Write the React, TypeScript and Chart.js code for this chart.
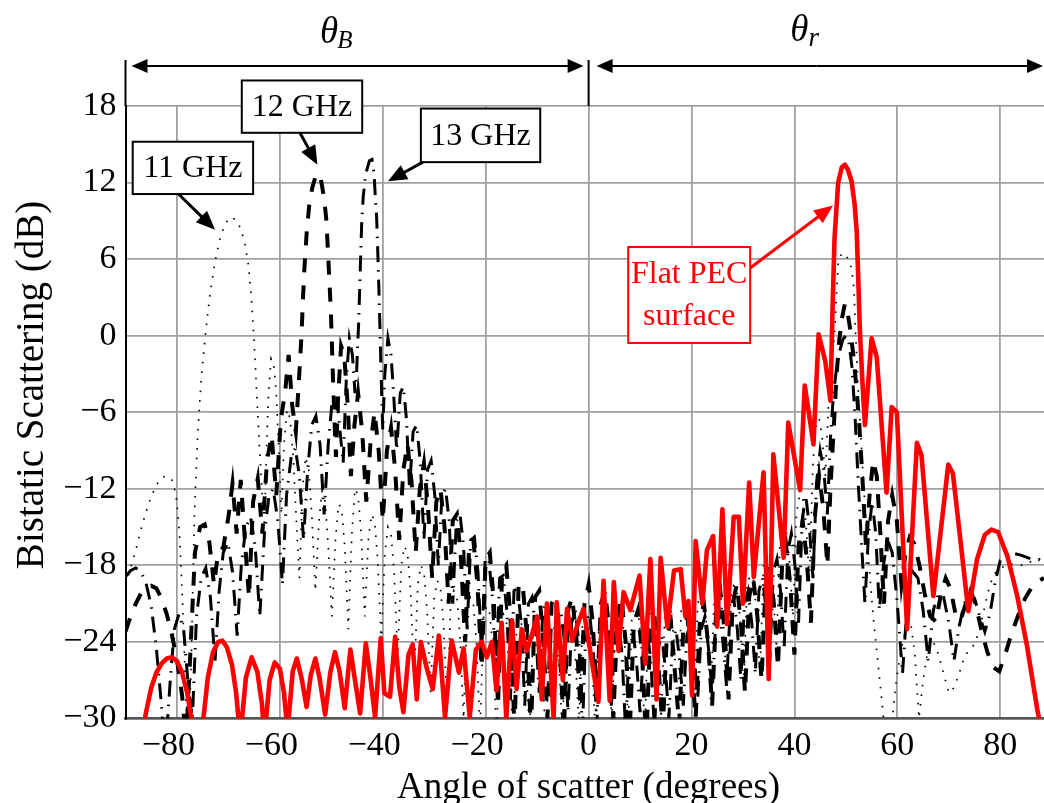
import React, { useEffect, useRef } from 'react';
import { Chart, registerables } from 'chart.js';

Chart.register(...registerables);

// ---------- data (angle in degrees, bistatic scattering in dB) ----------
const xTickValues = [-80, -60, -40, -20, 0, 20, 40, 60, 80];
const yTickStep = 6;
const xRange = [-90, 88.5];
const yRange = [-30, 18];

const pecPoints: number[][] = [
  [-87.5, -33], [-86, -29.5], [-85, -27.6], [-84, -26.4], [-83, -25.7], [-82, -25.3], [-81, -25.2], [-80, -25.5], [-79, -26.4], [-78, -28], [-77, -30.5], [-76, -33],
  [-75, -30.5], [-74, -26.8], [-73, -24.8], [-72, -24], [-71.2, -23.9], [-70.3, -24.4], [-69.3, -25.8], [-68.5, -28], [-67.7, -31.5],
  [-66.6, -26.8], [-65.5, -25.2], [-64.4, -26.3], [-63.5, -28.8], [-63, -31.5],
  [-62, -27], [-61, -25.6], [-60, -26.1], [-59.2, -28], [-58.5, -31],
  [-57.5, -26.3], [-56.7, -25.3], [-55.8, -26.8], [-54.8, -29.1], [-54, -26.6], [-53.1, -25.3], [-52.3, -26.8], [-51.2, -29.7],
  [-50.2, -26.4], [-49.3, -24.8], [-48.4, -26.3], [-47.4, -29.2], [-46.3, -24.6], [-45.4, -27], [-44.4, -29.6], [-43.3, -24.1],
  [-42.4, -26.8], [-41.5, -29.9], [-40.4, -23.7], [-39.7, -28], [-38.6, -28.3], [-37.6, -23.6], [-36.8, -27.5], [-36, -29.5],
  [-35, -25], [-34.2, -24.2], [-33.4, -28.5], [-32.6, -24], [-31.5, -26], [-30.3, -27.7], [-29.1, -23.5], [-27.9, -29.9],
  [-26.6, -23.9], [-25.2, -26.4], [-24.3, -24.5], [-23.1, -29.9], [-21.9, -24.6], [-20.8, -24], [-19.8, -25.2], [-18.8, -24],
  [-17.9, -27.8], [-16.9, -22.5], [-16, -30], [-14.9, -22.3], [-14, -27.7], [-13, -23], [-12, -24.7], [-11, -23.4], [-10, -22],
  [-9.1, -28.5], [-8.1, -21], [-6.8, -30], [-6.2, -20.9], [-5, -27], [-4.2, -21.4], [-3.2, -23.9], [-2.1, -22.6], [-1, -21.4],
  [0.5, -25.2], [1.9, -28.7], [2.9, -19.2], [4.1, -28.6], [4.9, -19.3], [5.8, -24.7], [6.8, -20.1], [8.1, -21.5], [9.9, -18.8],
  [11, -25.7], [12, -17.5], [13.2, -28.5], [14, -17.4], [15.3, -22.8], [16.6, -18.4], [17.9, -18.3], [18.8, -22], [19.4, -20.8],
  [20.1, -28.2], [20.8, -16.1], [22.1, -21], [23, -16.8], [24.2, -15.7], [25, -22.8], [26, -13.6], [26.9, -22.6], [28.2, -14.2],
  [29.2, -14.2], [30, -21], [31.2, -11.5], [32.1, -18.9], [34, -10.7], [35, -26.9], [35.9, -9.3], [37.9, -17.4], [38.8, -6.8],
  [41.1, -12.1], [42, -3.9], [43.7, -8.5], [44.7, 0.1], [46, -2], [47, -5.1], [47.4, 2], [47.8, 7.7], [48.5, 12], [49.2, 13.2],
  [49.8, 13.4], [50.4, 13], [51.1, 12.1], [51.7, 10.3], [52.1, 8.2], [52.4, 4.5], [52.7, 0.6], [53.2, -3.5], [53.7, -7],
  [55, -0.2], [56, -1.7], [57.9, -12.3], [58.9, -5.6], [59.9, -6], [61.9, -23], [63.8, -8.4], [64.7, -9.4], [67, -20.4],
  [69.9, -10.1], [70.8, -10.8], [73.8, -21.6], [75.5, -17.5], [77, -15.6], [78.3, -15.2], [79.6, -15.4], [81.4, -17.3],
  [83.3, -20.4], [85.2, -24.3], [87.2, -29.3], [88.5, -32],
];

const ghz11Points: number[][] = [
  [-90, -19.5], [-89, -18.2], [-88, -16.8], [-87, -15.2], [-86, -13.8], [-85, -12.6], [-84, -11.7], [-83, -11.1], [-82, -11], [-81, -11.3],
  [-80.2, -12.4], [-79.5, -15.5], [-78.9, -21], [-78.3, -28], [-77.8, -33], [-77.2, -25], [-76.6, -14], [-76, -8], [-75.3, -3.5],
  [-74.5, 0], [-73.6, 3.2], [-72.6, 5.8], [-71.6, 7.7], [-70.6, 8.8], [-69.6, 9.3], [-68.6, 9.1], [-67.6, 8.4], [-66.8, 7.2],
  [-66.1, 5.5], [-65.5, 2.8], [-65, -0.5], [-64.5, -4.5], [-64, -8.5], [-63.5, -12], [-63, -15], [-62.6, -9], [-62.2, -4.5],
  [-61.7, -1.8], [-61.2, -2.2], [-60.7, -4.5], [-60.2, -9], [-59.7, -14], [-59.2, -8.5], [-58.6, -5.8], [-58, -6.5], [-57.4, -9.5],
  [-56.8, -14.5], [-56.2, -19], [-55.6, -12], [-55, -9.5], [-54.4, -10.5], [-53.8, -14], [-53.1, -20], [-52.4, -14.5], [-51.8, -12.2],
  [-51.2, -13], [-50.6, -16.5], [-49.9, -22], [-49.2, -16], [-48.6, -13.2], [-48, -13.5], [-47.4, -16.5], [-46.7, -23], [-46, -15.5],
  [-45.4, -12], [-44.8, -12.5], [-44.2, -15.5], [-43.5, -22], [-42.8, -16], [-42.2, -14], [-41.6, -14.5], [-41, -17.5], [-40.3, -24],
  [-39.6, -17], [-39, -15], [-38.4, -15.5], [-37.8, -18.5], [-37.1, -25], [-36.4, -18], [-35.8, -16.5], [-35.2, -17], [-34.6, -20],
  [-33.9, -27], [-33.2, -19.5], [-32.6, -18], [-32, -18.5], [-31.4, -21.5], [-30.7, -28], [-30, -20.5], [-29.4, -19.2], [-28.8, -19.8],
  [-28.2, -22.5], [-27.5, -29], [-26.8, -21], [-26.2, -20], [-25.6, -20.5], [-25, -23.5], [-24.3, -30], [-23.6, -21.5], [-23, -20.5],
  [-22.4, -21], [-21.8, -24], [-21.1, -31], [-20.4, -22], [-19.8, -21.2], [-19.2, -21.8], [-18.6, -24.5], [-17.9, -31.5], [-17.2, -22.5],
  [-16.6, -21.8], [-16, -22.3], [-15.4, -25], [-14.7, -32], [-14, -23], [-13.4, -22.3], [-12.8, -22.8], [-12.2, -25.5], [-11.5, -31],
  [-10.8, -23.5], [-10.2, -22.8], [-9.6, -23.2], [-9, -26], [-8.3, -32], [-7.6, -23.5], [-7, -22.8], [-6.4, -23], [-5.8, -25.5],
  [-5.1, -31], [-4.4, -23], [-3.8, -22.2], [-3.2, -22.5], [-2.6, -25], [-1.9, -30.5], [-1.2, -22.8], [-0.6, -22.2], [0, -22.5],
  [0.6, -25], [1.3, -31], [2, -22.5], [2.6, -21.8], [3.2, -22], [3.8, -24.5], [4.5, -30], [5.2, -22], [5.8, -21.3], [6.4, -21.5],
  [7, -24], [7.7, -30.5], [8.4, -22], [9, -21.2], [9.6, -21.5], [10.2, -24], [10.9, -31], [11.6, -22.5], [12.2, -21.6], [12.8, -22],
  [13.4, -24.5], [14.1, -30], [14.8, -22], [15.4, -21.2], [16, -21.4], [16.6, -24], [17.3, -29.5], [18, -21.5], [18.6, -20.8],
  [19.2, -21], [19.8, -23.5], [20.5, -29], [21.2, -21], [21.8, -20.2], [22.4, -20.5], [23, -23], [23.7, -28.5], [24.4, -20.5],
  [25, -19.8], [25.6, -20], [26.2, -22.5], [26.9, -28], [27.6, -20.5], [28.2, -19.6], [28.8, -19.8], [29.4, -22], [30.1, -27.5],
  [30.8, -19.5], [31.4, -18.8], [32, -19], [32.6, -21.5], [33.3, -26.5], [34, -18], [34.6, -17], [35.2, -17.3], [35.8, -19.5],
  [36.5, -24.5], [37.2, -16], [37.8, -15], [38.4, -15.2], [39, -17.5], [39.7, -22], [40.4, -14], [41, -12.5], [41.6, -12.7],
  [42.2, -14.5], [42.9, -19], [43.6, -10], [44.2, -7], [44.8, -6.5], [45.4, -8], [46, -11], [46.6, -5.6], [47.2, -3], [47.9, 0.9],
  [48.2, 3.5], [48.5, 5.6], [49, 6.3], [49.5, 6.5], [50.3, 6.1], [51.1, 5.3], [51.6, 3.5], [51.8, 0.9], [52.1, -1.7], [52.4, -4.3],
  [52.7, -6.4], [53.2, -10], [53.8, -14], [54.5, -18], [55.3, -22], [56.2, -25.5], [57.2, -29.5], [58, -33], [58.8, -31],
  [59.8, -27], [60.8, -24.5], [61.8, -22.8], [62.6, -22.5], [63.4, -25], [64.2, -30], [65, -27], [66, -24.5], [67, -24],
  [68, -25], [69, -26.5], [70, -28], [71, -27.6], [72, -26.5], [73, -25.2], [74, -24.6], [75, -24.2], [76, -23], [77, -21.2],
  [78, -19.5], [79, -18.6], [80, -18.2], [82, -17.9], [84, -18], [86, -17.7], [88.5, -17.4],
];

const ghz12Points: number[][] = [
  [-90, -23.2], [-89, -22], [-88, -21], [-87, -20.2], [-86, -19.8], [-85, -19.6], [-84, -19.8], [-83, -20.6], [-82, -21.8], [-81, -23.4],
  [-80, -25.4], [-79, -28.2], [-78.2, -32], [-77.3, -24], [-76.5, -17], [-75.5, -15], [-74.6, -14.8], [-73.7, -16.2], [-72.8, -19.5],
  [-72, -17], [-71, -16.6], [-70, -14.2], [-69.2, -11.6], [-68.4, -15.5], [-67.6, -11.3], [-66.8, -16], [-66, -20.5], [-65.2, -13],
  [-64.3, -11.2], [-63.4, -15.5], [-62.5, -9.8], [-61.6, -7.8], [-60.7, -12.5], [-59.8, -6.5], [-59, -4.5], [-58.3, -1.5], [-57.6, -5.5],
  [-56.9, -7.5], [-56.3, -3.5], [-55.8, 0], [-55.5, 3], [-55.2, 5.5], [-54.8, 8], [-54.3, 10.2], [-53.7, 11.6], [-52.9, 12.7],
  [-52.1, 12.4], [-51.4, 10.8], [-51, 9.2], [-50.7, 7], [-50.4, 4.5], [-50.1, 2], [-49.9, -0.5], [-49.7, -3], [-49.4, -6.5],
  [-49.1, -9.5], [-48.7, -5], [-48.1, -0.8], [-47.5, -1.5], [-46.8, -5.5], [-46.2, -11], [-45.5, -7], [-44.8, -4.5], [-44, -7.5],
  [-43.2, -13], [-42.4, -8.5], [-41.6, -6], [-40.8, -9], [-40, -14.5], [-39.2, -9], [-38.4, -7.2], [-37.6, -10.5], [-36.8, -16],
  [-36, -10.5], [-35.2, -8.5], [-34.4, -11.5], [-33.6, -17], [-32.8, -12], [-32, -10], [-31.2, -13.5], [-30.4, -19], [-29.6, -13],
  [-28.8, -12], [-28, -15], [-27.2, -21], [-26.4, -14.5], [-25.6, -14], [-24.8, -17.5], [-24, -24], [-23.2, -16.5], [-22.4, -16],
  [-21.6, -19.5], [-20.8, -26], [-20, -17.5], [-19.2, -17], [-18.4, -21], [-17.6, -29], [-16.8, -18.5], [-16, -18], [-15.2, -22],
  [-14.4, -31], [-13.6, -19.5], [-12.8, -19.5], [-12, -23.5], [-11.2, -31], [-10.4, -20.5], [-9.6, -20], [-8.8, -24], [-8, -30],
  [-7.2, -21], [-6.4, -20.5], [-5.6, -24.5], [-4.8, -31], [-4, -21.5], [-3.2, -20.5], [-2.4, -23.5], [-1.6, -29], [-0.8, -21],
  [0, -19.5], [0.8, -22.5], [1.6, -28.5], [2.4, -21], [3.2, -20], [4, -23], [4.8, -30], [5.6, -22], [6.4, -20.5], [7.2, -24],
  [8, -31], [8.8, -22.5], [9.6, -21.5], [10.4, -25], [11.2, -32], [12, -23], [12.8, -22], [13.6, -26], [14.4, -31], [15.2, -23.5],
  [16, -22.5], [16.8, -26.5], [17.6, -30.5], [18.4, -23], [19.2, -22], [20, -25.5], [20.8, -30], [21.6, -22.5], [22.4, -21],
  [23.2, -24], [24, -29], [24.8, -21.5], [25.6, -20], [26.4, -23], [27.2, -28.5], [28, -21], [28.8, -19.5], [29.6, -22.5],
  [30.4, -28], [31.2, -20.5], [32, -19], [32.8, -22], [33.6, -27], [34.4, -19.5], [35.2, -18], [36, -21], [36.8, -26], [37.6, -18],
  [38.4, -16.5], [39.2, -19.5], [40, -25], [40.8, -16.5], [41.6, -14.5], [42.4, -17.5], [43.2, -22.5], [44, -14], [44.8, -11],
  [45.6, -13.5], [46.4, -18], [47, -12], [47.6, -7.5], [48.2, -3], [48.7, -0.4], [49.2, 1.3], [49.8, 2.5], [50.3, 1.9], [50.8, 0.6],
  [51.5, -1.7], [52.1, -4.3], [52.6, -7], [53.2, -11], [53.9, -16.5], [54.6, -12.5], [55.3, -9.8], [56, -11], [56.7, -15.5],
  [57.4, -21], [58.2, -14.5], [59, -12.5], [59.9, -14.5], [60.8, -19.5], [61.6, -17], [62.4, -15.8], [63.3, -16.3], [64.3, -18],
  [65.3, -20.2], [66.4, -22], [67.5, -22.4], [68.5, -20.2], [69.4, -19], [70.3, -19.8], [71.3, -21.8], [72.3, -22.3], [73.3, -21],
  [74.2, -20], [75.2, -21], [76.3, -23], [77.5, -24.8], [78.7, -26], [79.8, -26.3], [80.8, -25.2], [82, -23.6], [83.4, -22],
  [84.8, -20.6], [86.3, -19.6], [87.5, -19.2], [88.5, -19],
];

const ghz13Points: number[][] = [
  [-90, -18.9], [-89, -18.4], [-88, -18.2], [-87, -18.5], [-86, -19.4], [-85, -21.2], [-84, -24.5], [-83, -29], [-82.3, -33],
  [-81.3, -27], [-80.5, -23], [-79.6, -21.8], [-78.7, -23], [-77.8, -27.5], [-77, -30], [-76.2, -22], [-75.3, -19], [-74.4, -18.2],
  [-73.5, -20.5], [-72.6, -25.5], [-71.8, -20], [-71, -17], [-70.1, -16.2], [-69.2, -18.5], [-68.3, -23.5], [-67.5, -18], [-66.6, -15],
  [-65.7, -14.2], [-64.8, -16.5], [-63.9, -22], [-63, -15.5], [-62.1, -12.5], [-61.3, -12], [-60.4, -14.5], [-59.5, -19.5],
  [-58.7, -12.5], [-57.8, -9.5], [-57, -8.8], [-56.2, -11], [-55.4, -16], [-54.6, -10.5], [-53.8, -7], [-53, -6.3], [-52.2, -8.5],
  [-51.4, -14], [-50.6, -8.5], [-49.8, -5], [-49, -4.5], [-48.3, -7.5], [-47.7, -10], [-47.1, -3.5], [-46.5, -0.2], [-45.9, -1.5],
  [-45.4, -4.5], [-45.1, -3], [-44.9, -0.9], [-44.7, 0.9], [-44.5, 3.5], [-44.3, 6.2], [-44.1, 8.8], [-43.8, 10.9], [-43.3, 12.7],
  [-42.6, 13.7], [-42.1, 13.8], [-41.7, 12.7], [-41.4, 10.5], [-41.2, 9.3], [-41, 6.9], [-40.8, 4.3], [-40.6, 1.4], [-40.4, -1.8],
  [-40.2, -4.8], [-40, -7.4], [-39.6, -3], [-39, -0.2], [-38.4, -1.5], [-37.9, -4.5], [-37.3, -9], [-36.6, -4.5], [-36, -4],
  [-35.4, -6.5], [-34.8, -12], [-34.1, -7.5], [-33.4, -7], [-32.7, -10], [-32, -16], [-31.3, -10.5], [-30.6, -9.8], [-29.9, -12.5],
  [-29.2, -18], [-28.5, -12.5], [-27.8, -12], [-27.1, -14.5], [-26.4, -21], [-25.7, -14.5], [-25, -14], [-24.3, -16.5], [-23.6, -23],
  [-22.9, -16], [-22.2, -15.8], [-21.5, -18.5], [-20.8, -25], [-20.1, -17.5], [-19.4, -17.5], [-18.7, -20.5], [-18, -27], [-17.3, -19],
  [-16.6, -18.8], [-15.9, -21.5], [-15.2, -28.5], [-14.5, -20], [-13.8, -19.8], [-13.1, -22.5], [-12.4, -29], [-11.7, -21], [-11, -20.5],
  [-10.3, -23], [-9.6, -28], [-8.9, -21.5], [-8.2, -21], [-7.5, -23.5], [-6.8, -30], [-6.1, -22], [-5.4, -21.5], [-4.7, -24], [-4, -29.5],
  [-3.3, -22.5], [-2.6, -21.5], [-1.9, -24], [-1.2, -31], [-0.5, -22.5], [0.2, -21.8], [0.9, -24.5], [1.6, -30.5], [2.3, -23], [3, -22],
  [3.7, -24.5], [4.4, -29], [5.1, -23.5], [5.8, -22.5], [6.5, -25], [7.2, -31], [7.9, -24], [8.6, -23], [9.3, -25.5], [10, -29.5],
  [10.7, -24], [11.4, -23.2], [12.1, -25.5], [12.8, -31], [13.5, -24.5], [14.2, -23.5], [14.9, -26], [15.6, -30], [16.3, -24], [17, -23],
  [17.7, -25.5], [18.4, -29], [19.1, -23.5], [19.8, -22.5], [20.5, -25], [21.2, -28.5], [21.9, -23], [22.6, -22], [23.3, -24.5], [24, -28],
  [24.7, -22.5], [25.4, -21.5], [26.1, -24], [26.8, -27.5], [27.5, -21.5], [28.2, -20.5], [28.9, -23], [29.6, -27], [30.3, -21], [31, -20],
  [31.7, -22.5], [32.4, -26.5], [33.1, -20], [33.8, -19], [34.5, -21.5], [35.2, -25.5], [35.9, -18.5], [36.6, -17.5], [37.3, -20],
  [38, -24.5], [38.7, -17], [39.4, -15.5], [40.1, -18], [40.8, -22.5], [41.5, -14.5], [42.2, -12.5], [42.9, -15], [43.6, -19],
  [44.3, -11.5], [45, -9], [45.7, -10.5], [46.4, -14], [47, -8], [47.6, -4.5], [48.2, -2.5], [48.8, -1.2], [49.4, -0.3], [50, 0],
  [50.6, -0.6], [51.2, -2.5], [51.8, -6.5], [52.4, -11.5], [53, -16], [53.7, -21], [54.4, -15.5], [55.1, -13], [55.8, -15.5],
  [56.5, -21.5], [57.3, -18], [58.1, -16], [59, -17], [60, -21], [61, -26.5], [62, -20.5], [63, -18.5], [64, -19], [65, -21.5],
  [66, -25.5], [67, -21.5], [68, -20.2], [69, -20.5], [70, -22.5], [71, -25.5], [72, -22.8], [73, -21], [74, -20.2], [75, -20.6],
  [76, -22], [77, -23.2], [78, -21.8], [79, -19.3], [80, -17.6], [82, -17], [84, -17.2], [86, -17.5], [88.5, -17.6],
];

// ---------- annotation layout (data coordinates) ----------
const FONT = "'Liberation Serif', 'Times New Roman', serif";
const labelBoxes = [
  { lines: ['11 GHz'], x1: -88.6, x2: -65.2, y1: 15.2, y2: 11.1, color: '#000000' },
  { lines: ['12 GHz'], x1: -67.4, x2: -44.0, y1: 20.0, y2: 15.9, color: '#000000' },
  { lines: ['13 GHz'], x1: -32.6, x2: -9.4, y1: 17.8, y2: 13.6, color: '#000000' },
  { lines: ['Flat PEC', 'surface'], x1: 7.7, x2: 31.4, y1: 6.95, y2: -0.57, color: '#ff0000' },
];
const pointerArrows = [
  { from: [-79.7, 11.1], to: [-72.6, 8.3], color: '#000000' },
  { from: [-56.1, 15.9], to: [-52.7, 13.4], color: '#000000' },
  { from: [-32.2, 13.6], to: [-39.0, 12.1], color: '#000000' },
  { from: [31.4, 5.3], to: [47.5, 10.2], color: '#ff0000' },
];

function fmtTick(v: number, pad: boolean) {
  if (v < 0) return '\u2212' + Math.abs(v) + (pad ? '\u2002' : '');
  return String(v);
}

function drawArrow(ctx: CanvasRenderingContext2D, x1: number, y1: number, x2: number, y2: number, color: string, lw: number, hl: number, hw: number) {
  const a = Math.atan2(y2 - y1, x2 - x1);
  const c = Math.cos(a), s = Math.sin(a);
  ctx.save();
  ctx.strokeStyle = color;
  ctx.fillStyle = color;
  ctx.lineWidth = lw;
  ctx.setLineDash([]);
  ctx.beginPath();
  ctx.moveTo(x1, y1);
  ctx.lineTo(x2 - hl * 0.8 * c, y2 - hl * 0.8 * s);
  ctx.stroke();
  ctx.beginPath();
  ctx.moveTo(x2, y2);
  ctx.lineTo(x2 - hl * c + hw * s, y2 - hl * s - hw * c);
  ctx.lineTo(x2 - hl * c - hw * s, y2 - hl * s + hw * c);
  ctx.closePath();
  ctx.fill();
  ctx.restore();
}

const annotationPlugin = {
  id: 'figureAnnotations',
  afterDraw(chart: any) {
    const ctx: CanvasRenderingContext2D = chart.ctx;
    const xs = chart.scales.x;
    const ys = chart.scales.y;
    const px = (v: number) => xs.getPixelForValue(v);
    const py = (v: number) => ys.getPixelForValue(v);
    const area = chart.chartArea;
    ctx.save();

    // top range markers
    const yArrow = 66;
    const xL = px(xRange[0]);
    const x0 = px(0);
    const xR = area.right;
    ctx.strokeStyle = '#000';
    ctx.lineWidth = 2;
    ctx.beginPath();
    ctx.moveTo(xL, 60); ctx.lineTo(xL, area.top);
    ctx.moveTo(x0, 60); ctx.lineTo(x0, area.top);
    ctx.stroke();
    drawArrow(ctx, (xL + x0) / 2, yArrow, xL + 6, yArrow, '#000', 2, 16, 7);
    drawArrow(ctx, (xL + x0) / 2, yArrow, x0 - 5, yArrow, '#000', 2, 16, 7);
    drawArrow(ctx, (x0 + xR) / 2, yArrow, x0 + 8, yArrow, '#000', 2, 16, 7);
    drawArrow(ctx, (x0 + xR) / 2, yArrow, xR - 1, yArrow, '#000', 2, 16, 7);

    // theta labels
    ctx.fillStyle = '#000';
    ctx.textBaseline = 'alphabetic';
    ctx.textAlign = 'left';
    ctx.font = `italic 37px ${FONT}`;
    const thB = px(-52.2);
    ctx.fillText('\u03b8', thB, 43);
    const wth = ctx.measureText('\u03b8').width;
    ctx.font = `italic 25px ${FONT}`;
    ctx.fillText('B', thB + wth - 1, 48);
    ctx.font = `italic 37px ${FONT}`;
    const thR = px(39.2);
    ctx.fillText('\u03b8', thR, 41);
    ctx.font = `italic 27px ${FONT}`;
    ctx.fillText('r', thR + wth, 46);

    // pointer arrows
    for (const ar of pointerArrows) {
      drawArrow(ctx, px(ar.from[0]), py(ar.from[1]), px(ar.to[0]), py(ar.to[1]), ar.color, 3, 19, 8);
    }

    // label boxes
    for (const b of labelBoxes) {
      const bx = px(b.x1), by = py(b.y1);
      const bw = px(b.x2) - bx, bh = py(b.y2) - by;
      ctx.fillStyle = '#ffffff';
      ctx.fillRect(bx, by, bw, bh);
      ctx.strokeStyle = b.color;
      ctx.lineWidth = 2;
      ctx.strokeRect(bx, by, bw, bh);
      ctx.fillStyle = b.color;
      ctx.font = `32px ${FONT}`;
      ctx.textAlign = 'center';
      ctx.textBaseline = 'middle';
      const n = b.lines.length;
      const lh = 42;
      b.lines.forEach((t, i) => {
        ctx.fillText(t, bx + bw / 2, by + bh / 2 + (i - (n - 1) / 2) * lh + 1);
      });
    }

    // axis titles
    ctx.fillStyle = '#000';
    ctx.font = `37px ${FONT}`;
    ctx.textAlign = 'center';
    ctx.textBaseline = 'alphabetic';
    ctx.fillText('Angle of scatter (degrees)', x0, 798);
    ctx.save();
    ctx.font = `39px ${FONT}`;
    ctx.translate(43, 385);
    ctx.rotate(-Math.PI / 2);
    ctx.fillText('Bistatic Scattering (dB)', 0, 0);
    ctx.restore();

    ctx.restore();
  },
};

export default function App() {
  const canvasRef = useRef<HTMLCanvasElement | null>(null);

  useEffect(() => {
    document.body.style.margin = '0';
    const toXY = (pts: number[][]) => pts.map((p) => ({ x: p[0], y: p[1] }));
    const chart = new Chart(canvasRef.current as HTMLCanvasElement, {
      type: 'line',
      data: {
        datasets: [
          {
            label: 'Flat PEC surface',
            data: toXY(pecPoints),
            borderColor: '#ff0000',
            borderWidth: 4.6,
            borderJoinStyle: 'round',
            pointRadius: 0,
            tension: 0,
            clip: 0,
          },
          {
            label: '13 GHz',
            data: toXY(ghz13Points),
            borderColor: '#000000',
            borderWidth: 3,
            borderDash: [16, 8, 1.5, 8],
            pointRadius: 0,
            tension: 0,
            clip: 0,
          },
          {
            label: '12 GHz',
            data: toXY(ghz12Points),
            borderColor: '#000000',
            borderWidth: 4,
            borderDash: [14, 13],
            pointRadius: 0,
            tension: 0,
            clip: 0,
          },
          {
            label: '11 GHz',
            data: toXY(ghz11Points),
            borderColor: '#000000',
            borderWidth: 1.7,
            borderDash: [1.6, 8],
            pointRadius: 0,
            tension: 0,
            clip: 0,
          },
        ] as any,
      },
      options: {
        responsive: false,
        animation: false,
        devicePixelRatio: 1,
        layout: { padding: { top: 106, left: 0, right: 0, bottom: 0 } },
        plugins: { legend: { display: false }, tooltip: { enabled: false } },
        scales: {
          x: {
            type: 'linear',
            min: xRange[0],
            max: xRange[1],
            afterBuildTicks: (scale: any) => {
              scale.ticks = xTickValues.map((v) => ({ value: v }));
            },
            afterFit: (scale: any) => {
              scale.height = 803 - 718.5;
            },
            ticks: {
              autoSkip: false,
              maxRotation: 0,
              padding: 7,
              color: '#000',
              font: { family: FONT, size: 34 },
              callback: (v: any) => fmtTick(Number(v), true),
            },
            grid: { color: '#a0a0a0', lineWidth: 1.8, drawTicks: false },
            border: { display: true, color: '#555555', width: 2.5 },
          },
          y: {
            type: 'linear',
            min: yRange[0],
            max: yRange[1],
            afterFit: (scale: any) => {
              scale.width = 125.5;
            },
            ticks: {
              stepSize: yTickStep,
              padding: 9,
              color: '#000',
              font: { family: FONT, size: 34 },
              callback: (v: any) => fmtTick(Number(v), false),
            },
            grid: { color: '#a0a0a0', lineWidth: 1.8, drawTicks: false },
            border: { display: true, color: '#000000', width: 2 },
          },
        },
      } as any,
      plugins: [annotationPlugin],
    });
    return () => chart.destroy();
  }, []);

  return (
    <div style={{ width: 1044, height: 803 }}>
      <canvas ref={canvasRef} width={1044} height={803} style={{ display: 'block' }} />
    </div>
  );
}
